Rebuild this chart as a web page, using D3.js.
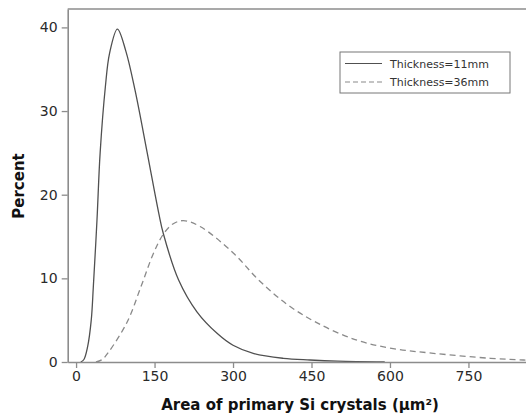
<!DOCTYPE html>
<html>
<head>
<meta charset="utf-8">
<script src="https://cdn.jsdelivr.net/npm/d3@7"></script>
<style>
  body { margin: 0; background: #fff; }
  text { font-family: "DejaVu Sans", sans-serif; }
</style>
</head>
<body>
<div id="chart"></div>
<script>
// values
var thin_x = [9, 15, 22, 29, 33, 40, 46, 56, 64, 79, 95, 113, 136, 158, 167, 196, 231, 270, 300, 340, 396, 447, 500, 590];
var thin_y = [0, 0.3, 1.8, 5.0, 9.0, 17, 25, 32.9, 36.9, 39.8, 37.2, 32.4, 25, 17.8, 15.3, 9.8, 6.0, 3.4, 2.0, 1.0, 0.44, 0.24, 0.1, 0];
var thick_x = [38, 50, 60, 97, 124, 148, 167, 185, 205, 237, 301, 349, 403, 460, 537, 606, 683, 792, 855, 880];
var thick_y = [0, 0.3, 1.0, 4.7, 9.0, 13, 15.3, 16.5, 16.9, 16.2, 13.0, 9.8, 6.9, 4.7, 2.6, 1.6, 1.04, 0.44, 0.24, 0.2];
var x_ticks = [0, 150, 300, 450, 600, 750];
var y_ticks = [0, 10, 20, 30, 40];
var series_names = ["Thickness=11mm", "Thickness=36mm"];

var width = 526, height = 416;
var plotLeft = 67.7, plotRight = 526, plotTop = 9, plotBottom = 362;

var svg = d3.select("#chart").append("svg")
  .attr("width", width)
  .attr("height", height);

var x = d3.scaleLinear().domain([-16, 860]).range([plotLeft, plotRight]);
var y = d3.scaleLinear().domain([0, 42.2]).range([plotBottom, plotTop]);

svg.append("clipPath").attr("id", "plot")
  .append("rect")
  .attr("x", plotLeft).attr("y", plotTop - 2)
  .attr("width", plotRight - plotLeft).attr("height", plotBottom - plotTop + 4);

// top frame line
svg.append("line")
  .attr("x1", plotLeft).attr("x2", plotRight)
  .attr("y1", plotTop).attr("y2", plotTop)
  .attr("stroke", "#8c8c8c").attr("stroke-width", 1.6);

var line = d3.line()
  .x(function(d) { return x(d[0]); })
  .y(function(d) { return y(d[1]); })
  .curve(d3.curveCatmullRom.alpha(0.5));

var thin = d3.zip(thin_x, thin_y);
var thick = d3.zip(thick_x, thick_y);

var g = svg.append("g").attr("clip-path", "url(#plot)");

// axes
var xAxis = svg.append("g")
  .attr("transform", "translate(0," + plotBottom + ")")
  .call(d3.axisBottom(x).tickValues(x_ticks).tickSize(6).tickPadding(3).tickSizeOuter(0));
var yAxis = svg.append("g")
  .attr("transform", "translate(" + plotLeft + ",0)")
  .call(d3.axisLeft(y).tickValues(y_ticks).tickSize(6).tickPadding(4).tickSizeOuter(0));

[xAxis, yAxis].forEach(function(a) {
  a.select(".domain").attr("stroke", "#8c8c8c").attr("stroke-width", 1.6);
  a.selectAll(".tick line").attr("stroke", "#8c8c8c").attr("stroke-width", 1.3);
  a.selectAll(".tick text")
    .attr("fill", "#2a2a2a")
    .style("font-size", "14px")
    .style("font-family", "'DejaVu Sans', sans-serif");
});

g.append("path")
  .datum(thick)
  .attr("d", line)
  .attr("fill", "none")
  .attr("stroke", "#8a8a8a")
  .attr("stroke-width", 1.3)
  .attr("stroke-dasharray", "6,4");

g.append("path")
  .datum(thin)
  .attr("d", line)
  .attr("fill", "none")
  .attr("stroke", "#505050")
  .attr("stroke-width", 1.3);

// axis titles
svg.append("text")
  .attr("x", 300).attr("y", 410)
  .attr("text-anchor", "middle")
  .attr("font-weight", "bold")
  .attr("font-size", 15)
  .attr("fill", "#111")
  .text("Area of primary Si crystals (\u03bcm\u00b2)");

svg.append("text")
  .attr("transform", "translate(24,186) rotate(-90)")
  .attr("text-anchor", "middle")
  .attr("font-weight", "bold")
  .attr("font-size", 15)
  .attr("fill", "#111")
  .text("Percent");

// legend
var legend = svg.append("g");
legend.append("rect")
  .attr("x", 340).attr("y", 52)
  .attr("width", 170).attr("height", 41)
  .attr("fill", "#fff")
  .attr("stroke", "#777").attr("stroke-width", 1);

var dashes = [null, "5,3"];
var colors = ["#505050", "#8a8a8a"];
series_names.forEach(function(name, i) {
  var ly = 63.5 + i * 18.5;
  legend.append("line")
    .attr("x1", 345).attr("x2", 382)
    .attr("y1", ly).attr("y2", ly)
    .attr("stroke", colors[i]).attr("stroke-width", 1.2)
    .attr("stroke-dasharray", dashes[i]);
  legend.append("text")
    .attr("x", 390).attr("y", ly + 4)
    .attr("font-size", 11)
    .attr("fill", "#333")
    .text(name);
});
</script>
</body>
</html>
